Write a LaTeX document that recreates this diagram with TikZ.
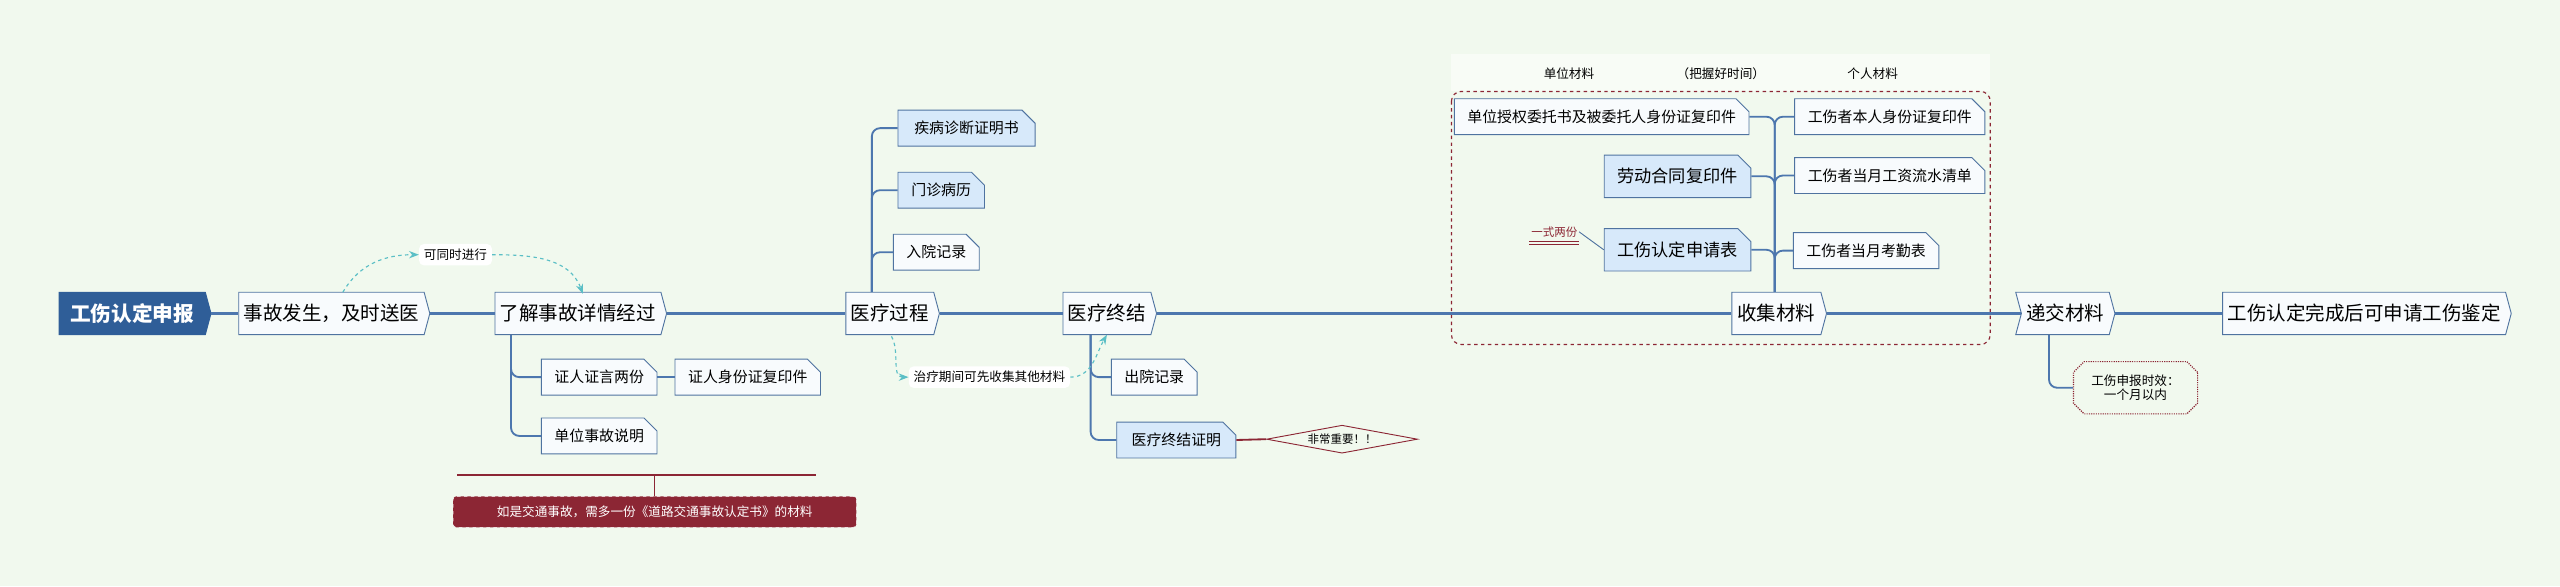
\documentclass[tikz,border=0pt]{standalone}
\usepackage{fontspec}
\setmainfont{Noto Sans CJK SC}
\usetikzlibrary{shapes.symbols,shapes.misc,shapes.geometric,arrows.meta}
\definecolor{bg}{HTML}{F1F9EE}
\definecolor{ln}{HTML}{4D77AE}
\definecolor{bd}{HTML}{4F73A0}
\definecolor{lb}{HTML}{D7E9FA}
\definecolor{wb}{HTML}{F8FBFD}
\definecolor{rootc}{HTML}{2F5E98}
\definecolor{dred}{HTML}{8C2634}
\definecolor{cy}{HTML}{5BBFC6}
\tikzset{
 mainbox/.style={signal, signal to=east, signal pointer angle=150, draw=bd, fill=wb, line width=0.8pt, minimum height=13mm, inner sep=1.5mm, font=\fontsize{17}{18}\selectfont},
 subbox/.style={chamfered rectangle, chamfered rectangle corners=north east, chamfered rectangle xsep=2mm, chamfered rectangle ysep=2mm, draw=bd, fill=wb, line width=0.8pt, minimum height=11mm, inner xsep=2mm, font=\fontsize{13}{14}\selectfont},
 bluebox/.style={subbox, fill=lb},
 conn/.style={draw=ln, line width=2pt},
 bconn/.style={draw=ln, line width=1.6pt, rounded corners=2.5mm},
 note/.style={fill=white, rounded corners=1.5mm, font=\fontsize{11}{12}\selectfont, inner sep=1.5mm},
 darr/.style={draw=cy, dashed, line width=1pt, -{Stealth[length=3mm]}},
 hdr/.style={font=\fontsize{11}{12}\selectfont}
}
\begin{document}
\begin{tikzpicture}[x=0.5mm,y=-0.5mm]
\fill[bg] (0,0) rectangle (1568,359);
\useasboundingbox (0,0) rectangle (1568,359);
% group box
\fill[white,opacity=0.5] (889,33) rectangle (1219,56);
\draw[dred, dashed, line width=1pt, rounded corners=3mm] (889,56) rectangle (1219,211);
\node[hdr] (h1) at (961,45) {单位材料};
\node[hdr] (h2) at (1054,45) {（把握好时间）};
\node[hdr] (h3) at (1147,45) {个人材料};
% main nodes
\node[mainbox, fill=rootc, draw=rootc, text=white, font=\bfseries\fontsize{18}{19}\selectfont, minimum width=93*0.5mm] (root) at (81,192) {工伤认定申报};
\node[mainbox, minimum width=113*0.5mm] (n1) at (203,192) {事故发生，及时送医};
\node[mainbox, minimum width=104*0.5mm] (n2) at (354,192) {了解事故详情经过};
\node[mainbox, minimum width=57*0.5mm] (n3) at (545,192) {医疗过程};
\node[mainbox, minimum width=57*0.5mm] (n4) at (678,192) {医疗终结};
\node[mainbox, minimum width=58*0.5mm] (n5) at (1088,192) {收集材料};
\node[mainbox, signal from=west, minimum width=55*0.5mm] (n6) at (1265,192) {递交材料};
\node[mainbox, minimum width=170*0.5mm] (n7) at (1448,192) {工伤认定完成后可申请工伤鉴定};
\foreach \a/\b in {root/n1,n1/n2,n2/n3,n3/n4,n4/n5,n5/n6,n6/n7} \draw[conn] (\a.east) -- (\b.west);
% n2 children
\node[subbox, minimum width=66*0.5mm] (c1) at (367,231) {证人证言两份};
\node[subbox, minimum width=83*0.5mm] (c2) at (458,231) {证人身份证复印件};
\node[subbox, minimum width=66*0.5mm] (c3) at (367,267) {单位事故说明};
\draw[bconn] ([xshift=-20.5mm]n2.south) |- (c1.west);
\draw[bconn] ([xshift=-20.5mm]n2.south) |- (c3.west);
\draw[conn,line width=1.6pt] (c1.east) -- (c2.west);
% red note
\coordinate (rl) at (280,291); \coordinate (rr) at (500,291);
\draw[dred, line width=1.2pt] (rl) -- (rr);
\node[fill=dred, draw=white, dashed, text=white, rounded corners=1mm, minimum width=247*0.5mm, minimum height=9.5mm, font=\fontsize{11}{12}\selectfont] (red) at (401,313.5) {如是交通事故，需多一份《道路交通事故认定书》的材料};
\draw[dred, line width=0.8pt] (401,291) -- (red.north);
\node[note] (lab1) at (279,156) {可同时进行};
\draw[darr] (210,179) to[out=60,in=180] (lab1.west);
\draw[darr] (lab1.east) to[out=0,in=110] (357,180);
% n3 children
\node[bluebox, minimum width=84*0.5mm] (d1) at (592,78.5) {疾病诊断证明书};
\node[bluebox, minimum width=53*0.5mm] (d2) at (576.5,116.5) {门诊病历};
\node[subbox, minimum width=47*0.5mm] (d3) at (573.5,154.5) {入院记录};
\foreach \d in {d1,d2,d3} \draw[bconn] ([xshift=-5.5mm]n3.north) |- (\d.west);
% n4 children
\node[subbox, minimum width=46*0.5mm] (e1) at (707,231) {出院记录};
\node[bluebox, minimum width=73*0.5mm] (e2) at (720.5,269.5) {医疗终结证明};
\foreach \d in {e1,e2} \draw[bconn] ([xshift=-5mm]n4.south) |- (\d.west);
\node[diamond, aspect=5.4, draw=dred, fill=bg, line width=0.8pt, inner sep=0.6mm, font=\fontsize{10}{11}\selectfont] (imp) at (822,269) {非常重要！！};
\draw[dred, line width=1.6pt] (e2.east) -- (imp.west);
\node[note] (lab2) at (606,231) {治疗期间可先收集其他材料};
\draw[darr] (546,206) to[out=-60,in=180] (lab2.west);
\draw[darr] (lab2.east) to[out=0,in=-120] (678,205);
% n5 children
\node[subbox, minimum width=178*0.5mm] (f1) at (981,71.5) {单位授权委托书及被委托人身份证复印件};
\node[bluebox, minimum width=85*0.5mm, minimum height=13mm, font=\fontsize{15}{16}\selectfont] (f2) at (1027.5,108) {劳动合同复印件};
\node[bluebox, minimum width=85*0.5mm, minimum height=13mm, font=\fontsize{15}{16}\selectfont] (f3) at (1027.5,153) {工伤认定申请表};
\node[subbox, minimum width=113*0.5mm] (g1) at (1157.5,71.5) {工伤者本人身份证复印件};
\node[subbox, minimum width=113*0.5mm] (g2) at (1157.5,107.5) {工伤者当月工资流水清单};
\node[subbox, minimum width=84*0.5mm] (g3) at (1143,153.5) {工伤者当月考勤表};
\coordinate (sp) at (1087,178);
\foreach \d in {f1,f2,f3} \draw[bconn] (n5.north -| sp) |- (\d.east);
\foreach \d in {g1,g2,g3} \draw[bconn] (n5.north -| sp) |- (\d.west);
\node[text=dred, font=\fontsize{10}{11}\selectfont, inner sep=0.5mm] (two) at (952,142) {一式两份};
\draw[dred, line width=0.7pt] ([yshift=-0.6mm]two.south west) -- ([yshift=-0.6mm]two.south east);
\draw[dred, line width=0.7pt] ([yshift=-1.6mm]two.south west) -- ([yshift=-1.6mm]two.south east);
\draw[bd, line width=0.8pt] (two.east) -- (f3.west);
% n6 child
\node[chamfered rectangle, chamfered rectangle xsep=2mm, draw=dred, densely dotted, fill=bg, line width=1pt, minimum width=76*0.5mm, minimum height=16mm, align=center, font=\fontsize{11}{13}\selectfont] (t1) at (1308,237.5) {工伤申报时效：\\一个月以内};
\draw[bconn] ([xshift=-5mm]n6.south) |- (t1.west);
\end{tikzpicture}
\end{document}
